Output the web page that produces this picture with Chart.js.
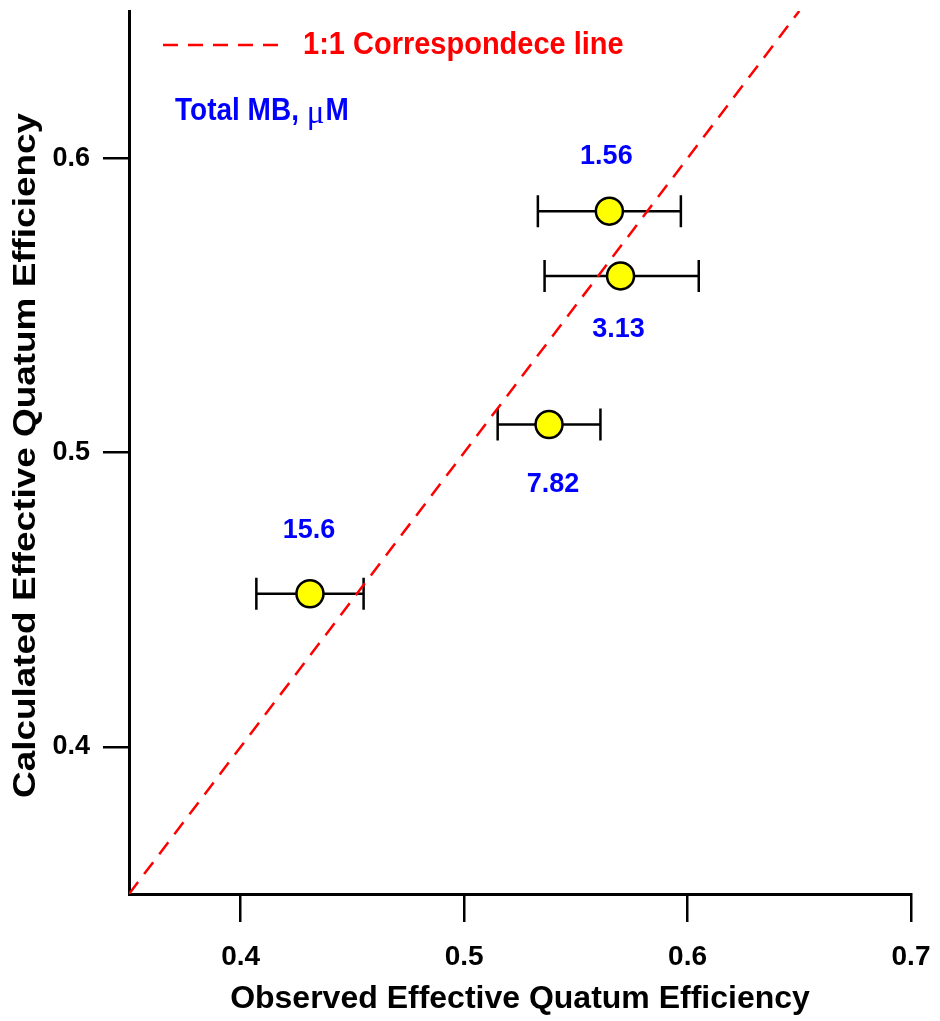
<!DOCTYPE html>
<html>
<head>
<meta charset="utf-8">
<script src="https://cdn.jsdelivr.net/npm/chart.js@4/dist/chart.umd.min.js"></script>
<style>
  html, body { margin: 0; padding: 0; background: #fff; }
</style>
</head>
<body>
<canvas id="myChart" width="940" height="1021"></canvas>
<script>
// data
const concLabels = ["1.56", "3.13", "7.82", "15.6"];
const observed = [0.565, 0.570, 0.538, 0.431];
const calculated = [0.582, 0.560, 0.5095, 0.452];
const observedLow = [0.533, 0.536, 0.515, 0.407];
const observedHigh = [0.597, 0.605, 0.561, 0.455];
const oneToOne = [0.35, 0.65];
const xRange = [0.35, 0.7];
const yRange = [0.35, 0.65];

const FONT = "'Liberation Sans', Arial, sans-serif";
const labelOffsets = [[-3, -55], [-2, 53], [4, 60], [-1, -64]];

const isMajor = (v) => Math.round(v * 100) % 10 === 0;

function drawText(ctx, text, x, y, font, color, align, sy) {
  ctx.save();
  ctx.font = font;
  ctx.fillStyle = color;
  ctx.textAlign = align;
  ctx.textBaseline = "middle";
  ctx.translate(x, y);
  ctx.scale(1, sy || 1);
  ctx.fillText(text, 0, 0);
  ctx.restore();
}

const extras = {
  id: "extras",
  beforeDatasetsDraw(chart) {
    const { ctx, scales: { x, y } } = chart;
    ctx.save();
    ctx.strokeStyle = "#000";
    ctx.lineWidth = 2.5;
    observed.forEach((_, i) => {
      const py = y.getPixelForValue(calculated[i]);
      const x1 = x.getPixelForValue(observedLow[i]);
      const x2 = x.getPixelForValue(observedHigh[i]);
      ctx.beginPath();
      ctx.moveTo(x1, py); ctx.lineTo(x2, py);
      ctx.moveTo(x1, py - 16); ctx.lineTo(x1, py + 16);
      ctx.moveTo(x2, py - 16); ctx.lineTo(x2, py + 16);
      ctx.stroke();
    });
    ctx.restore();
  },
  afterDraw(chart) {
    const { ctx, chartArea: area, scales: { x, y } } = chart;

    // short minor ticks
    ctx.save();
    ctx.strokeStyle = "#000";
    ctx.lineWidth = 2.5;
    ctx.beginPath();
    x.ticks.forEach((t) => {
      if (isMajor(t.value)) return;
      const px = x.getPixelForValue(t.value);
      ctx.moveTo(px, area.bottom); ctx.lineTo(px, area.bottom + 15);
    });
    y.ticks.forEach((t) => {
      if (isMajor(t.value)) return;
      const py = y.getPixelForValue(t.value);
      ctx.moveTo(area.left - 13, py); ctx.lineTo(area.left, py);
    });
    ctx.stroke();
    ctx.restore();

    // legend entry for the 1:1 line
    ctx.save();
    ctx.strokeStyle = "#ff0000";
    ctx.lineWidth = 2.5;
    ctx.setLineDash([15, 10]);
    ctx.beginPath();
    ctx.moveTo(163, 45); ctx.lineTo(283, 45);
    ctx.stroke();
    ctx.restore();
    drawText(ctx, "1:1 Correspondece line", 303, 45, "bold 29px " + FONT, "#ff0000", "left", 1.1);

    // "Total MB, µM" note
    ctx.save();
    const boldF = "bold 28px " + FONT;
    const muF = "33px 'Liberation Serif', serif";
    let tx = 175;
    const part1 = "Total MB, ";
    drawText(ctx, part1, tx, 112, boldF, "#0000ff", "left", 1.1);
    ctx.font = boldF;
    tx += ctx.measureText(part1).width;
    drawText(ctx, "\u03bc", tx, 114, muF, "#0000ff", "left", 1.05);
    ctx.font = muF;
    tx += ctx.measureText("\u03bc").width + 1;
    drawText(ctx, "M", tx, 112, boldF, "#0000ff", "left", 1.1);
    ctx.restore();

    // concentration labels next to points
    concLabels.forEach((lab, i) => {
      const px = x.getPixelForValue(observed[i]) + labelOffsets[i][0];
      const py = y.getPixelForValue(calculated[i]) + labelOffsets[i][1];
      drawText(ctx, lab, px, py, "bold 27px " + FONT, "#0000ff", "center", 1.05);
    });

    // y axis title, stretched along its length like the original
    const yTitle = "Calculated Effective Quatum Efficiency";
    ctx.save();
    ctx.font = "bold 32px " + FONT;
    const w = ctx.measureText(yTitle).width;
    ctx.translate(26, 455.5);
    ctx.rotate(-Math.PI / 2);
    ctx.scale(685 / w, 1);
    ctx.fillStyle = "#000";
    ctx.textAlign = "center";
    ctx.textBaseline = "middle";
    ctx.fillText(yTitle, 0, 0);
    ctx.restore();
  }
};

const ctx = document.getElementById("myChart").getContext("2d");

new Chart(ctx, {
  type: "scatter",
  data: {
    datasets: [
      {
        type: "line",
        label: "1:1 Correspondece line",
        data: oneToOne.map((v) => ({ x: v, y: v })),
        borderColor: "#ff0000",
        borderWidth: 2.5,
        borderDash: [15, 10],
        pointRadius: 0,
        fill: false,
        order: 2,
      },
      {
        label: "Total MB",
        data: observed.map((v, i) => ({ x: v, y: calculated[i] })),
        backgroundColor: "#ffff00",
        borderColor: "#000",
        borderWidth: 2.5,
        pointRadius: 13.5,
        pointHoverRadius: 13.5,
        order: 1,
      },
    ],
  },
  options: {
    responsive: false,
    animation: false,
    layout: { autoPadding: false, padding: { top: 11, right: 29, bottom: 0, left: 0 } },
    plugins: {
      legend: { display: false },
      tooltip: { enabled: false },
    },
    scales: {
      x: {
        type: "linear",
        min: xRange[0],
        max: xRange[1],
        afterFit: (scale) => {
          scale.height = 127;
          scale.paddingLeft = 0;
          scale.paddingRight = 0;
        },
        border: { display: true, color: "#000", width: 3 },
        grid: {
          drawOnChartArea: false,
          drawTicks: true,
          tickLength: 28,
          lineWidth: 2.5,
          tickWidth: 2.5,
          tickColor: (c) => (c.tick && isMajor(c.tick.value) ? "#000" : "rgba(0,0,0,0)"),
        },
        ticks: {
          stepSize: 0.05,
          padding: 18,
          color: "#000",
          font: { family: FONT, size: 28, weight: "bold" },
          callback: (v) => (isMajor(v) ? v.toFixed(1) : null),
        },
        title: {
          display: true,
          text: "Observed Effective Quatum Efficiency",
          color: "#000",
          font: { family: FONT, size: 32, weight: "bold" },
          padding: { top: 0, bottom: 3 },
        },
      },
      y: {
        type: "linear",
        min: yRange[0],
        max: yRange[1],
        afterFit: (scale) => {
          scale.width = 129;
          scale.paddingTop = 0;
          scale.paddingBottom = 0;
        },
        border: { display: true, color: "#000", width: 3 },
        grid: {
          drawOnChartArea: false,
          drawTicks: true,
          tickLength: 26,
          lineWidth: 2.5,
          tickWidth: 2.5,
          tickColor: (c) => (c.tick && isMajor(c.tick.value) ? "#000" : "rgba(0,0,0,0)"),
        },
        ticks: {
          stepSize: 0.05,
          padding: 13,
          color: "#000",
          font: { family: FONT, size: 27, weight: "bold" },
          callback: (v) => (isMajor(v) ? v.toFixed(1) : null),
        },
      },
    },
  },
  plugins: [extras],
});
</script>
</body>
</html>
